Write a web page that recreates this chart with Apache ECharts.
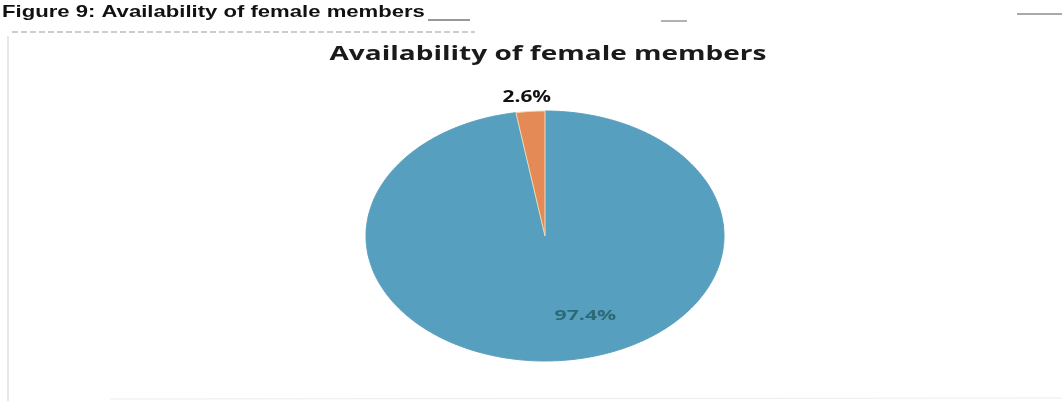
<!DOCTYPE html>
<html>
<head>
<meta charset="utf-8">
<script src="https://cdn.jsdelivr.net/npm/echarts@6/dist/echarts.min.js"></script>
<style>
  html, body { margin: 0; padding: 0; background: #fff; }
  #chart { width: 1062px; height: 401px; }
</style>
</head>
<body>
<div id="chart"></div>
<script>
// data
const categories = ["Available", "Not available"];
const shares = [97.4, 2.6];
const sliceColors = ["#579fbe", "#e38a57"];
const labelColors = ["#2d6a78", "#111111"];

// the scanned figure is stretched sideways, so the pie is an ellipse
// and all text is widened a bit
const stretch = 1.4;
const cx = 545, cy = 236, rx = 179, ry = 125;
const labelRadius = [0.64, 1.11];
const labelShift = [31, -2];

const total = shares.reduce((a, b) => a + b, 0);

function pointAt(frac, k) {
  // clockwise from 12 o'clock
  const t = frac * Math.PI * 2;
  return [cx + rx * k * Math.sin(t), cy - ry * k * Math.cos(t)];
}

function renderSlice(params, api) {
  const i = params.dataIndex;
  let start = 0;
  for (let j = 0; j < i; j++) start += shares[j];
  const f0 = start / total;
  const f1 = (start + api.value(1)) / total;
  const steps = Math.max(4, Math.ceil((f1 - f0) * 720));
  const pts = [[cx, cy]];
  for (let s = 0; s <= steps; s++) pts.push(pointAt(f0 + (f1 - f0) * s / steps, 1));
  const mid = pointAt((f0 + f1) / 2, labelRadius[i]);
  return {
    type: "group",
    children: [
      {
        type: "polygon",
        shape: { points: pts },
        style: { fill: sliceColors[i], stroke: i === 1 ? "#f2dcb4" : sliceColors[i], lineWidth: 1 }
      },
      {
        type: "text",
        z2: 10,
        x: mid[0] + labelShift[i],
        y: mid[1],
        scaleX: i === 0 ? 1.42 : 1.3,
        style: {
          text: api.value(1).toFixed(1) + "%",
          align: "center",
          verticalAlign: "middle",
          fill: labelColors[i],
          font: (i === 0 ? "bold 15px" : "bold 16px") + " 'Open Sans', sans-serif"
        }
      }
    ]
  };
}

const chart = echarts.init(document.getElementById("chart"));
chart.setOption({
  backgroundColor: "#ffffff",
  animation: false,
  graphic: [
    {
      type: "text", x: 2, y: 12, scaleX: 1.3,
      style: {
        text: "Figure 9: Availability of female members",
        align: "left", verticalAlign: "middle", fill: "#111111",
        font: "bold 17px 'Liberation Sans', Arial, sans-serif"
      }
    },
    {
      type: "text", x: 548, y: 54, scaleX: stretch,
      style: {
        text: "Availability of female members",
        align: "center", verticalAlign: "middle", fill: "#1a1a1a",
        font: "bold 20px 'Open Sans', sans-serif"
      }
    },
    { type: "line", shape: { x1: 428, y1: 20, x2: 470, y2: 20 }, style: { stroke: "#333", lineWidth: 1 } },
    { type: "line", shape: { x1: 12, y1: 32, x2: 475, y2: 32 }, style: { stroke: "#999", lineWidth: 1, lineDash: [6, 3] } },
    { type: "line", shape: { x1: 8, y1: 36, x2: 8, y2: 401 }, style: { stroke: "#cfcfcf", lineWidth: 1 } },
    { type: "line", shape: { x1: 661, y1: 21, x2: 687, y2: 21 }, style: { stroke: "#666", lineWidth: 1 } },
    { type: "line", shape: { x1: 1017, y1: 14, x2: 1062, y2: 14 }, style: { stroke: "#555", lineWidth: 1 } },
    { type: "line", shape: { x1: 110, y1: 399, x2: 1062, y2: 398 }, style: { stroke: "#ececec", lineWidth: 1 } }
  ],
  series: [
    {
      type: "custom",
      coordinateSystem: "none",
      renderItem: renderSlice,
      data: categories.map((c, i) => ({ name: c, value: [i, shares[i]] }))
    }
  ]
});
</script>
</body>
</html>
